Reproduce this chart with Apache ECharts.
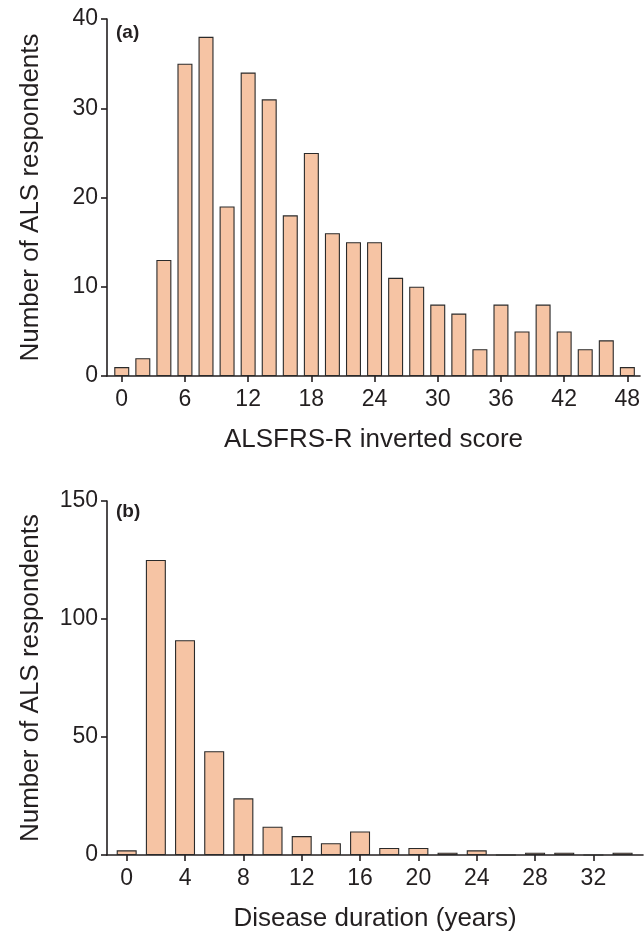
<!DOCTYPE html>
<html><head><meta charset="utf-8">
<script src="https://cdn.jsdelivr.net/npm/echarts@6/dist/echarts.min.js"></script>
<style>html,body{margin:0;padding:0;background:#fff}#c{width:644px;height:933px}</style>
</head><body><div id="c"></div>
<script>
const scoreBins = [0,2,4,6,8,10,12,14,16,18,20,22,24,26,28,30,32,34,36,38,40,42,44,46,48];
const scoreCounts = [1,2,13,35,38,19,34,31,18,25,16,15,15,11,10,8,7,3,8,5,8,5,3,4,1];
const scoreTicks = [0,6,12,18,24,30,36,42,48];
const durBins = [0,2,4,6,8,10,12,14,16,18,20,22,24,26,28,30,32,34];
const durCounts = [2,125,91,44,24,12,8,5,10,3,3,1,2,0,1,1,0,1];
const durTicks = [0,4,8,12,16,20,24,28,32];

const FONT = 'Liberation Sans, Arial, sans-serif';
const axisCol = '#231f20';
const barStyle = {color:'#f6c4a4', borderColor:'#2a2a2a', borderWidth:1.1};

function xAx(idx, min, max, ticks, name){
  return {type:'value', gridIndex:idx, min:min, max:max,
    name:name, nameLocation:'middle', nameGap:51,
    nameTextStyle:{fontFamily:FONT, fontSize:26, color:axisCol},
    axisLine:{show:true, onZero:false, lineStyle:{color:axisCol, width:1.6}},
    axisTick:{show:true, length:6, customValues:ticks, lineStyle:{color:axisCol, width:1.6}},
    axisLabel:{customValues:ticks, fontFamily:FONT, fontSize:23, color:axisCol, margin:12},
    splitLine:{show:false}};
}
function yAx(idx, max, interval){
  return {type:'value', gridIndex:idx, min:0, max:max, interval:interval,
    name:'Number of ALS respondents', nameLocation:'middle', nameGap:63,
    nameTextStyle:{fontFamily:FONT, fontSize:26, color:axisCol},
    axisLine:{show:true, onZero:false, lineStyle:{color:axisCol, width:1.6}},
    axisTick:{show:true, length:6, inside:false, lineStyle:{color:axisCol, width:1.6}},
    axisLabel:{fontFamily:FONT, fontSize:23, color:axisCol, margin:9},
    splitLine:{show:false}};
}

const chart = echarts.init(document.getElementById('c'), null, {renderer:'canvas'});
chart.setOption({
  animation:false,
  backgroundColor:'#fff',
  grid:[
    {left:107, top:19, width:533, height:357},
    {left:107, top:501, width:536, height:355}
  ],
  xAxis:[
    xAx(0, -1.4, 49.2, scoreTicks, 'ALSFRS-R inverted score'),
    xAx(1, -1.35, 35.4, durTicks, 'Disease duration (years)')
  ],
  yAxis:[ yAx(0, 40, 10), yAx(1, 150, 50) ],
  series:[
    {type:'bar', xAxisIndex:0, yAxisIndex:0, barWidth:15, itemStyle:barStyle,
     data: scoreBins.map((b,i)=>[b, scoreCounts[i]])},
    {type:'bar', xAxisIndex:1, yAxisIndex:1, barWidth:20, itemStyle:barStyle,
     data: durBins.map((b,i)=>[b, durCounts[i]])}
  ],
  graphic:[
    {type:'text', left:116, top:23, style:{text:'(a)', font:'bold 19px '+FONT, fill:axisCol}},
    {type:'text', left:116, top:502, style:{text:'(b)', font:'bold 19px '+FONT, fill:axisCol}}
  ]
});
</script></body></html>
